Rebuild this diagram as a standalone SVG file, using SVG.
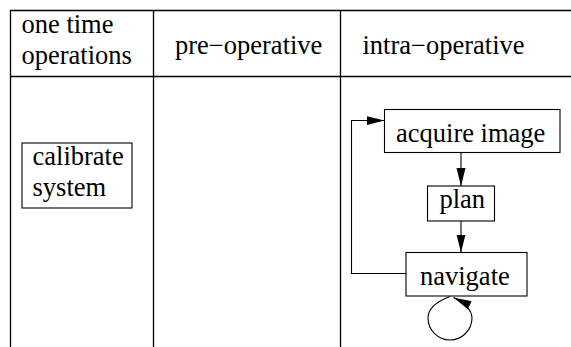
<svg xmlns="http://www.w3.org/2000/svg" width="571" height="347" viewBox="0 0 571 347">
  <style>
    .grid { stroke: #000; stroke-width: 1.3; fill: none; }
    .box { fill: #fff; stroke: #000; stroke-width: 1.1; }
    .lbl { font-family: "Liberation Serif", "Times New Roman", serif; font-size: 26.5px; fill: #000; }
    .edge { fill: none; stroke: #000; stroke-width: 1.1; }
  </style>
  <defs>
    <marker id="arrow" markerUnits="userSpaceOnUse" markerWidth="18" markerHeight="10" refX="18" refY="5" orient="auto">
      <path d="M0,0.5 L18,5 L0,9.5 z" fill="#000"/>
    </marker>
  </defs>
  <rect width="571" height="347" fill="#fff"/>

  <!-- swimlane table -->
  <g id="lanes">
    <path class="grid" d="M10.5,10.5 H571 M10.5,76.5 H571 M10.5,10 V347 M153.5,10 V347 M340.5,10 V347"/>
    <text class="lbl" x="21.5" y="33">one time</text>
    <text class="lbl" x="21.5" y="64">operations</text>
    <text class="lbl" x="175" y="54">pre−operative</text>
    <text class="lbl" x="362.5" y="54">intra−operative</text>
  </g>

  <g id="calibrate-system">
    <rect class="box" x="22" y="143" width="110" height="65"/>
    <text class="lbl" x="32.5" y="165">calibrate</text>
    <text class="lbl" x="32.5" y="196">system</text>
  </g>

  <g id="acquire-image">
    <rect class="box" x="384.5" y="109.5" width="175.5" height="43"/>
    <text class="lbl" x="396" y="141.5">acquire image</text>
  </g>

  <g id="plan">
    <rect class="box" x="427.5" y="186" width="67" height="35"/>
    <text class="lbl" x="439.5" y="207.5">plan</text>
  </g>

  <g id="navigate">
    <rect class="box" x="406" y="252.5" width="121" height="43.5"/>
    <text class="lbl" x="420" y="284.5">navigate</text>
  </g>

  <g id="connectors">
    <path class="edge" d="M461,152.5 V186" marker-end="url(#arrow)"/>
    <path class="edge" d="M461,221 V252.5" marker-end="url(#arrow)"/>
    <path class="edge" d="M406,273.5 H351.5 V120.5 H384.5" marker-end="url(#arrow)"/>
    <path class="edge" d="M450,296.5 C438,301 428,307 428,318 C428,331 439,340 450,340 C462,340 472,330 472,318 C472,311 465,303 453.5,297.5" marker-end="url(#arrow)"/>
  </g>
</svg>
